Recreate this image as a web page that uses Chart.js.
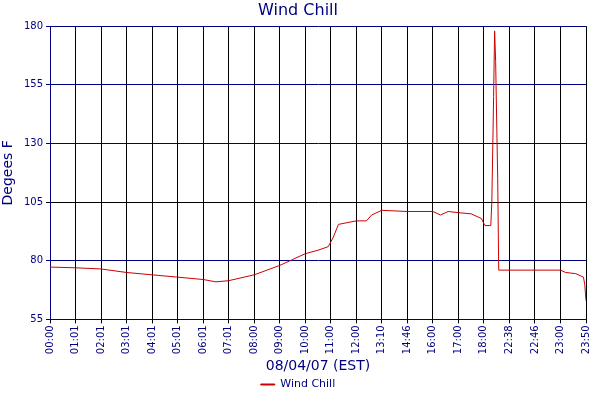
<!DOCTYPE html>
<html><head><script src="https://cdn.jsdelivr.net/npm/chart.js@4"></script>
<style>body{margin:0;background:#fff}#w{width:600px;height:400px}</style></head>
<body><div id="w"><canvas id="c"></canvas></div>
<script>
const tickLabels=["00:00","01:01","02:01","03:01","04:01","05:01","06:01","07:01","08:00","09:00","10:00","11:00","12:00","13:10","14:46","16:00","17:00","18:00","22:38","22:46","23:00","23:50"];
const xPos=[0,1,2,3,4,5,6,6.5,7,8,9,9.5,10,10.5,10.9,11.1,11.3,12,12.4,12.6,13,14,15,15.3,15.6,16,16.5,16.9,17.04,17.27,17.31,17.35,17.38,17.42,17.46,17.5,17.54,17.58,20,20.2,20.6,20.9,20.95,21];
const windChill=[77.3,77,76.5,75,74,73,72,71,71.5,74,78,80.5,83,84.5,86,90,95.5,97,97,99.5,101.5,101,101,99.5,101,100.5,100,98,95,95,105,130,150,178,165,140,115,76,76,75,74.5,73,70,63];
const pts=xPos.map((x,i)=>({x:x,y:windChill[i]}));
new Chart(document.getElementById('c'),{type:'line',
data:{datasets:[{label:'Wind Chill',data:pts,borderColor:'#cc0000',backgroundColor:'#cc0000',borderWidth:1,pointRadius:0,tension:0}]},
options:{responsive:true,maintainAspectRatio:false,animation:false,
layout:{padding:{left:0,right:4,top:0,bottom:0}},
plugins:{title:{display:true,text:'Wind Chill',color:'#000080',font:{family:'DejaVu Sans',size:16,weight:'normal'},padding:{top:1,bottom:6}},
legend:{position:'bottom',labels:{color:'#000080',font:{family:'DejaVu Sans',size:11},boxWidth:14,boxHeight:1,padding:4}},tooltip:{enabled:false}},
scales:{
x:{type:'linear',min:0,max:21,afterBuildTicks:s=>{s.ticks=tickLabels.map((_,i)=>({value:i}));},
ticks:{autoSkip:false,maxRotation:90,minRotation:90,color:'#000080',font:{family:'DejaVu Sans',size:10},padding:2,callback:v=>tickLabels[v]},
grid:{color:'#000000',lineWidth:1,drawTicks:true,tickLength:4},border:{color:'#000080'},
title:{display:true,text:'08/04/07 (EST)',color:'#000080',font:{family:'DejaVu Sans',size:14},padding:{top:2,bottom:0}}},
y:{min:55,max:180,afterFit:s=>{s.width=50;},ticks:{stepSize:25,color:'#000080',font:{family:'DejaVu Sans',size:10}},
grid:{color:c=>c.tick&&c.tick.value===105?'#000000':'#000080',tickLength:4},border:{color:'#000080'},
title:{display:true,text:'Degees F',color:'#000080',font:{family:'DejaVu Sans',size:14},padding:{top:0,bottom:2}}}}}});
</script></body></html>
